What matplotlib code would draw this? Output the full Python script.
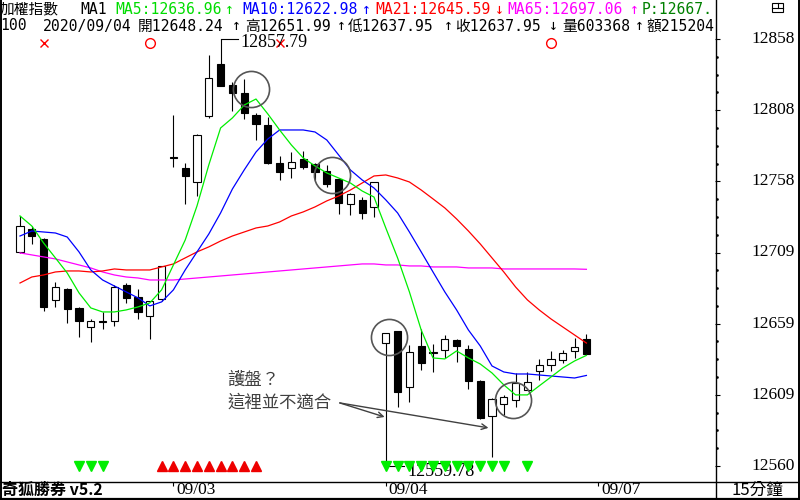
import numpy as np
import matplotlib
matplotlib.use('Agg')
import matplotlib.pyplot as plt
from matplotlib.lines import Line2D
from matplotlib.patches import Rectangle

# 15-minute bars, last 13 of 09/02, then 09/03 and 09/04
opens = [12709.2, 12725.2, 12718.2, 12675.7, 12683.3, 12670.1, 12656.8, 12661.0, 12661.0, 12686.1, 12677.8, 12664.5, 12676.4,
         12775.5, 12767.8, 12758.0, 12804.1, 12840.3, 12825.7, 12820.1, 12804.8, 12797.8, 12771.3, 12767.8, 12774.0, 12770.6, 12765.7, 12760.1, 12742.7, 12745.4, 12740.6,
         12645.6, 12654.0, 12615.0, 12643.6, 12639.4, 12640.8, 12647.8, 12641.5, 12619.1, 12594.7, 12603.1, 12605.9, 12612.9, 12626.1, 12630.3, 12633.8, 12640.1, 12648.24]
closes = [12727.3, 12720.3, 12670.8, 12684.7, 12669.4, 12661.0, 12661.0, 12660.5, 12684.7, 12677.1, 12667.3, 12674.9, 12699.4,
          12774.8, 12762.2, 12790.8, 12830.6, 12825.0, 12820.1, 12806.2, 12798.5, 12771.3, 12765.0, 12772.0, 12768.5, 12765.0, 12756.6, 12743.4, 12749.6, 12736.4, 12758.0,
          12652.6, 12611.4, 12639.4, 12631.7, 12638.7, 12648.4, 12643.6, 12619.1, 12593.3, 12606.5, 12608.0, 12617.7, 12618.4, 12630.3, 12634.5, 12638.7, 12642.9, 12637.95]
highs = [12734.3, 12727.3, 12719.0, 12688.2, 12684.0, 12670.8, 12662.4, 12667.3, 12686.1, 12687.5, 12683.3, 12675.0, 12699.5,
         12804.8, 12771.3, 12791.5, 12846.6, 12857.79, 12827.8, 12829.9, 12806.0, 12803.4, 12776.1, 12779.0, 12779.6, 12771.3, 12769.9, 12760.8, 12750.3, 12747.5, 12758.0,
         12652.6, 12654.0, 12644.3, 12655.4, 12645.0, 12651.2, 12648.4, 12644.3, 12619.8, 12607.3, 12609.4, 12624.7, 12625.4, 12634.5, 12640.1, 12640.8, 12649.1, 12651.99]
lows = [12708.5, 12714.7, 12668.0, 12670.8, 12659.6, 12649.8, 12646.3, 12655.4, 12657.5, 12673.6, 12662.4, 12648.4, 12675.0,
        12768.5, 12742.7, 12748.2, 12802.7, 12825.0, 12807.6, 12802.0, 12787.3, 12770.6, 12759.4, 12760.8, 12767.1, 12759.4, 12754.5, 12735.7, 12735.0, 12732.2, 12733.6,
        12559.78, 12601.0, 12604.5, 12626.8, 12625.4, 12635.2, 12632.4, 12613.6, 12592.6, 12566.1, 12595.4, 12601.0, 12612.9, 12619.8, 12626.1, 12631.7, 12635.2, 12637.95]

ma5 = [12734.3, 12727.3, 12715.4, 12705.0, 12694.5, 12680.6, 12670.1, 12667.3, 12667.3, 12668.7, 12670.8, 12673.6, 12682.7,
       12700.1, 12717.5, 12741.3, 12769.9, 12795.7, 12802.7, 12811.7, 12815.9, 12805.5, 12794.3, 12783.8, 12774.8, 12769.2, 12764.3, 12760.8, 12757.3, 12751.7, 12747.5,
       12725.9, 12705.0, 12681.3, 12654.7, 12635.2, 12634.5, 12640.1, 12635.2, 12631.0, 12624.7, 12616.4, 12609.4, 12609.4, 12615.7, 12621.9, 12628.2, 12633.1, 12636.96]
ma10 = [12720.3, 12723.8, 12723.1, 12722.4, 12719.6, 12709.2, 12696.6, 12689.6, 12685.4, 12681.3, 12677.1, 12671.5, 12674.3,
        12682.7, 12696.6, 12709.2, 12721.7, 12736.4, 12753.1, 12766.4, 12778.9, 12788.0, 12794.3, 12794.3, 12794.3, 12792.9, 12787.3, 12776.9, 12766.4, 12759.4, 12753.8,
        12745.5, 12736.4, 12723.1, 12709.2, 12695.2, 12681.3, 12668.7, 12654.7, 12643.6, 12629.6, 12625.4, 12624.0, 12624.0, 12623.3, 12622.6, 12621.9, 12621.2, 12622.98]
ma21 = [12687.5, 12691.7, 12693.1, 12695.2, 12695.9, 12695.9, 12695.2, 12695.9, 12697.3, 12696.6, 12696.6, 12696.6, 12698.7,
        12700.8, 12705.0, 12709.2, 12712.7, 12716.8, 12720.3, 12723.1, 12725.9, 12727.3, 12730.1, 12734.3, 12737.1, 12740.6, 12744.8, 12748.2, 12752.4, 12757.3, 12762.2,
        12762.9, 12760.8, 12758.0, 12752.4, 12746.2, 12739.9, 12732.2, 12723.8, 12714.8, 12705.0, 12695.2, 12684.7, 12675.7, 12668.7, 12662.4, 12656.8, 12651.2, 12645.59]
ma65 = [12708.5, 12707.1, 12705.7, 12704.3, 12702.2, 12700.1, 12698.0, 12695.2, 12693.1, 12691.7, 12691.0, 12689.6, 12689.6,
        12689.6, 12690.3, 12691.0, 12691.7, 12692.4, 12693.1, 12693.8, 12694.5, 12695.2, 12695.9, 12696.6, 12697.3, 12698.0, 12698.7, 12699.4, 12700.1, 12700.8, 12700.8,
        12700.1, 12700.1, 12699.4, 12699.4, 12698.7, 12698.7, 12698.7, 12698.0, 12698.0, 12698.0, 12697.3, 12697.3, 12697.3, 12697.3, 12697.3, 12697.3, 12697.3, 12697.06]

day_labels = ['09/03', '09/04', '09/07']
day_starts = [13, 31, 49]
sell_x = [2, 22]          # red x signals
buy_o = [11, 45]          # red o signals
down_tri = [5, 6, 7, 31, 32, 33, 34, 35, 36, 37, 38, 39, 40, 41, 43]
up_tri = [12, 13, 14, 15, 16, 17, 18, 19, 20]
circle_pts = [(19.6, 12822.9), (26.4, 12762.9), (31.3, 12649.8), (41.8, 12605.9)]
note = '護盤？\n這裡並不適合'
note_pos = (17.6, 12626.0)
arrow_from = (27.1, 12603.8)
arrow_to = [(30.9, 12594.0), (39.7, 12586.4)]
volume = '603368'
amount = '215204'
pivot = 'P:12667.'

W, H = 800, 500
fig = plt.figure(figsize=(8, 5), dpi=100)
fig.patch.set_facecolor('white')

def box(x0, y0, x1, y1):
    return [x0 / W, 1 - y1 / H, (x1 - x0) / W, (y1 - y0) / H]

o, c, h, l = map(np.array, (opens, closes, highs, lows))
x = np.arange(len(o))
lo, hi = l.min(), h.max()
ppx = (hi - lo) / 427.0
ylim = (lo - 15 * ppx, hi + 39 * ppx)
step = 11.8
xlim = (-20 / step, 695 / step)

ax = fig.add_axes(box(0, 0, 715, 481))
ax.set_xlim(*xlim)
ax.set_ylim(*ylim)
ax.axis('off')

up = c >= o
ax.vlines(x, l, h, color='black', lw=0.8, zorder=2)
ax.bar(x[up], (c - o)[up], bottom=o[up], width=0.6, facecolor='white', edgecolor='black', lw=0.8, zorder=3)
ax.bar(x[~up], (o - c)[~up], bottom=c[~up], width=0.6, facecolor='black', edgecolor='black', lw=0.8, zorder=3)

ax.plot(x, ma65, color='#ff00ff', lw=0.9, zorder=4)
ax.plot(x, ma21, color='#ff0000', lw=0.9, zorder=4)
ax.plot(x, ma10, color='#0000ff', lw=0.9, zorder=4)
ax.plot(x, ma5, color='#00ee00', lw=0.9, zorder=5)

# signal rows
tx = ax.get_xaxis_transform()
ax.plot(sell_x, [1 - 43 / 481] * len(sell_x), 'x', color='red', ms=6, mew=1, transform=tx)
ax.plot(buy_o, [1 - 43 / 481] * len(buy_o), 'o', color='red', mfc='none', ms=7, mew=1, transform=tx)
ax.plot(down_tri, [1 - 466 / 481] * len(down_tri), 'v', color='#00ee00', ms=7, transform=tx, zorder=6)
ax.plot(up_tri, [1 - 466 / 481] * len(up_tri), '^', color='#ee0000', ms=7, transform=tx, zorder=6)

# high / low labels
ih, il = int(np.argmax(h)), int(np.argmin(l))
ax.plot([ih, ih + 1.5], [hi, hi], color='black', lw=0.8)
ax.text(ih + 1.7, hi - 2.5, f'{hi:.2f}', va='center', ha='left', family='Liberation Serif', size=13)
ax.plot([il, il + 1.5], [lo, lo], color='black', lw=0.8)
ax.text(il + 1.8, lo - 4, f'{lo:.2f}', va='center', ha='left', family='Liberation Serif', size=13, zorder=5)

# hand annotations
for cx, cy in circle_pts:
    ax.plot(cx, cy, 'o', ms=26, mfc='none', mec='#555555', mew=1.2, zorder=7)
ax.text(*note_pos, note, va='top', ha='left', family=['Noto Sans CJK TC'], size=12.5,
        color='#404040', linespacing=1.3)
for tgt in arrow_to:
    ax.annotate('', xy=tgt, xytext=arrow_from,
                arrowprops=dict(arrowstyle='->', color='#404040', lw=1, shrinkA=0, shrinkB=0))

# header
hf = ['DejaVu Sans Mono', 'Noto Sans CJK TC']
def htxt(px, py, s, color='black', ha='left'):
    ax.text(px / 715, 1 - py / 481, s, transform=ax.transAxes, ha=ha, va='center',
            family=hf, size=10.6, color=color, clip_on=True)

def harrow(px, py, s, color='black'):
    htxt(px, py, s, color, ha='center')

htxt(0, 9, '加權指數')
htxt(80, 9, 'MA1')
htxt(115, 9, f'MA5:{ma5[-1]:.2f}', '#00dd00')
harrow(229, 9, '↑', '#00dd00')
htxt(242, 9, f'MA10:{ma10[-1]:.2f}', '#0000ff')
harrow(366, 9, '↑', '#0000ff')
htxt(375, 9, f'MA21:{ma21[-1]:.2f}', '#ff0000')
harrow(499, 9, '↓', '#ff0000')
htxt(507, 9, f'MA65:{ma65[-1]:.2f}', '#ff00ff')
harrow(634, 9, '↑', '#ff00ff')
htxt(642, 9, pivot, '#008000')

htxt(0, 26, '100')
htxt(43, 26, '2020/09/04')
htxt(138, 26, f'開{o[-1]:.2f}')
harrow(236, 26, '↑')
htxt(245, 26, f'高{h[-1]:.2f}')
harrow(341, 26, '↑')
htxt(348, 26, f'低{l[-1]:.2f}')
harrow(448, 26, '↑')
htxt(455, 26, f'收{c[-1]:.2f}')
harrow(553, 26, '↓')
htxt(562, 26, f'量{volume}')
harrow(639, 26, '↑')
htxt(647, 26, f'額{amount}')

# price scale panel
axr = fig.add_axes(box(715, 0, 800, 481))
axr.set_xlim(0, 85)
axr.set_ylim(*ylim)
axr.axis('off')
ticks = np.linspace(lo, hi, 7)
axr.hlines(ticks, 0, 5, color='black', lw=0.8)
minor = [a + (b - a) * k / 4 for a, b in zip(ticks[:-1], ticks[1:]) for k in (1, 2, 3)]
axr.plot([2] * len(minor), minor, 's', color='black', ms=0.8)
for t in ticks:
    axr.text(80, t, f'{t:.0f}', ha='right', va='center', family='Liberation Serif', size=12.5)

# bottom date bar
axb = fig.add_axes(box(0, 481, 715, 500))
axb.set_xlim(*xlim)
axb.set_ylim(19, 0)
axb.axis('off')
axb.vlines(day_starts, 1, 5, color='black', lw=0.8)
for d, lab in zip(day_starts, day_labels):
    axb.text(d + 0.25, 9, lab, ha='left', va='center', family='Liberation Serif', size=12.5)
fig.text(2 / W, 1 - 490 / H, '奇狐勝券 v5.2', ha='left', va='center',
         family=['Noto Sans CJK TC'], weight='bold', size=11.5)
fig.text(757 / W, 1 - 490 / H, '15分鐘', ha='center', va='center',
         family=['Noto Sans CJK TC'], size=12)

# frame lines
def fline(xs, ys, lw=1.0):
    fig.add_artist(Line2D([v / W for v in xs], [1 - v / H for v in ys], color='black', lw=lw))

fline([715.5, 715.5], [0, 500])
fline([0, 800], [481.5, 481.5])
fline([0.7, 0.7], [0, 500], 1.4)
fline([798.8, 798.8], [0, 500], 1.4)
fline([0, 800], [498.5, 498.5], 1.6)

# small window icon top right
fig.add_artist(Rectangle((772 / W, 1 - 12 / H), 11 / W, 9 / H, fill=False, lw=0.8, ec='black'))
fline([772, 783], [7.5, 7.5], 0.8)
fline([777.5, 777.5], [3, 7.5], 0.8)

fig.savefig('out.png', dpi=100)
